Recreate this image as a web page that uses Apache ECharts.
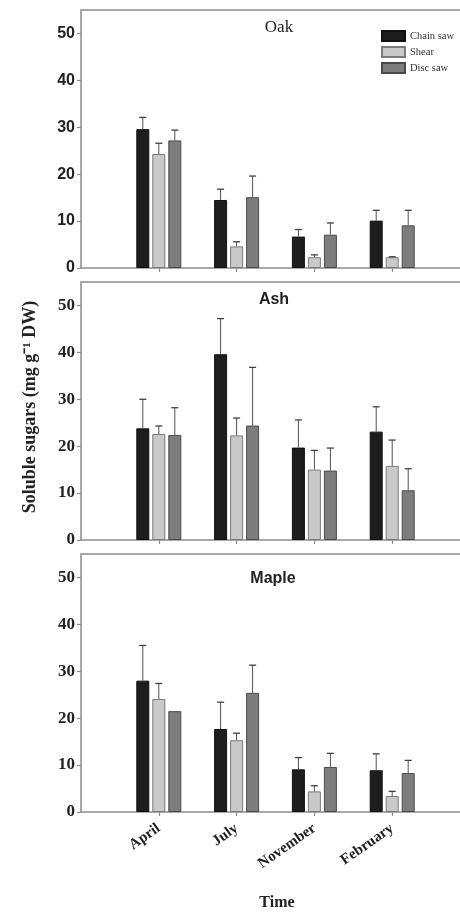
<!DOCTYPE html>
<html><head><meta charset="utf-8">
<script src="https://cdn.jsdelivr.net/npm/echarts@6/dist/echarts.min.js"></script>
<style>html,body{margin:0;padding:0;background:#fff}#c{width:460px;height:912px}</style>
</head><body><div id="c"></div>
<script>
// ---- data ----
const months = ['April', 'July', 'November', 'February'];
const seriesNames = ['Chain saw', 'Shear', 'Disc saw'];
const panelTitles = ['Oak', 'Ash', 'Maple'];
const yTicks = [0, 10, 20, 30, 40, 50];

const oakChain = [29.6, 14.5, 6.7, 10.1];
const oakShear = [24.3, 4.6, 2.3, 2.3];
const oakDisc  = [27.2, 15.1, 7.1, 9.1];
const oakChainSE = [2.5, 2.3, 1.5, 2.2];
const oakShearSE = [2.3, 1.0, 0.5, 0.1];
const oakDiscSE  = [2.2, 4.5, 2.5, 3.2];

const ashChain = [23.8, 39.6, 19.7, 23.1];
const ashShear = [22.6, 22.3, 15.0, 15.8];
const ashDisc  = [22.4, 24.4, 14.8, 10.6];
const ashChainSE = [6.2, 7.6, 5.9, 5.3];
const ashShearSE = [1.7, 3.7, 4.1, 5.5];
const ashDiscSE  = [5.8, 12.4, 4.8, 4.6];

const mapleChain = [28.0, 17.7, 9.1, 8.9];
const mapleShear = [24.1, 15.3, 4.4, 3.4];
const mapleDisc  = [21.5, 25.4, 9.6, 8.3];
const mapleChainSE = [7.5, 5.7, 2.5, 3.5];
const mapleShearSE = [3.3, 1.5, 1.2, 1.0];
const mapleDiscSE  = [0, 5.9, 2.9, 2.7];

// ---- styling ----
const fills = ['#1d1d1d', '#c9c9c9', '#7d7d7d'];
const borders = ['#111111', '#7a7a7a', '#4a4a4a'];
const axisGray = '#8c8c8c';
const BAR_W = 13, BAR_GAP = 3;

const panels = [
  {means: [oakChain, oakShear, oakDisc], se: [oakChainSE, oakShearSE, oakDiscSE]},
  {means: [ashChain, ashShear, ashDisc], se: [ashChainSE, ashShearSE, ashDiscSE]},
  {means: [mapleChain, mapleShear, mapleDisc], se: [mapleChainSE, mapleShearSE, mapleDiscSE]}
];

const cats = [''].concat(months, ['']);
const pad = arr => [null].concat(arr, [null]);

const gridTops = [10, 282, 554];
const gridH = 258;

const grids = [], xAxes = [], yAxes = [], series = [];
panels.forEach((p, pi) => {
  grids.push({left: 81, width: 389, top: gridTops[pi], height: gridH, show: true,
    outerBoundsMode: 'none', containLabel: false,
    borderColor: axisGray, borderWidth: 1.5, backgroundColor: 'transparent'});
  xAxes.push({
    type: 'category', gridIndex: pi, data: cats, boundaryGap: false,
    axisLine: {show: false},
    axisTick: {show: true, length: 4, lineStyle: {color: axisGray, width: 1.2},
      interval: (i) => i > 0 && i < cats.length - 1},
    axisLabel: pi === 2 ? {
      show: true, rotate: 35, margin: 15, color: '#222',
      fontFamily: 'Liberation Serif', fontWeight: 'bold', fontSize: 15,
      interval: (i) => i > 0 && i < cats.length - 1
    } : {show: false},
    splitLine: {show: false}
  });
  yAxes.push({
    type: 'value', gridIndex: pi, min: 0, max: 55, interval: 10,
    axisLine: {show: false},
    axisTick: {show: true, length: 4, customValues: yTicks, lineStyle: {color: axisGray, width: 1.2}},
    axisLabel: {customValues: yTicks, margin: 6, color: '#222', fontWeight: 'bold',
      fontFamily: pi === 0 ? 'Liberation Sans' : 'Liberation Serif',
      fontSize: pi === 0 ? 16 : 17},
    splitLine: {show: false}
  });
  p.means.forEach((arr, si) => {
    series.push({
      type: 'bar', name: seriesNames[si], xAxisIndex: pi, yAxisIndex: pi,
      data: pad(arr), barWidth: BAR_W, barGap: (BAR_GAP / BAR_W * 100) + '%',
      itemStyle: {color: fills[si], borderColor: borders[si], borderWidth: 1},
      emphasis: {disabled: true}, z: 2
    });
  });
  p.means.forEach((arr, si) => {
    const offset = (si - 1) * (BAR_W + BAR_GAP);
    const errData = arr.map((m, k) => [k + 1, m, m + p.se[si][k]]);
    series.push({
      type: 'custom', xAxisIndex: pi, yAxisIndex: pi, z: 3, silent: true,
      data: errData,
      renderItem: (params, api) => {
        const x = api.value(0), lo = api.value(1), hi = api.value(2);
        if (hi - lo <= 0) return null;
        const p0 = api.coord([x, lo]), p1 = api.coord([x, hi]);
        const cx = p0[0] + offset;
        return {type: 'group', children: [
          {type: 'line', shape: {x1: cx, y1: p0[1], x2: cx, y2: p1[1]}, style: {stroke: '#505050', lineWidth: 1}},
          {type: 'line', shape: {x1: cx - 3.5, y1: p1[1], x2: cx + 3.5, y2: p1[1]}, style: {stroke: '#404040', lineWidth: 1.3}}
        ]};
      }
    });
  });
});

const chart = echarts.init(document.getElementById('c'), null, {renderer: 'canvas'});
chart.setOption({
  animation: false,
  backgroundColor: '#ffffff',
  grid: grids, xAxis: xAxes, yAxis: yAxes, series: series,
  legend: {
    data: seriesNames, orient: 'vertical', left: 381, top: 30, padding: 0,
    itemWidth: 23, itemHeight: 10, itemGap: 4, icon: 'rect',
    selectedMode: false,
    textStyle: {fontFamily: 'Liberation Serif', fontSize: 10.5, color: '#333'}
  },
  graphic: [
    {type: 'text', x: 279, y: 28, style: {text: panelTitles[0], textAlign: 'center', textVerticalAlign: 'middle',
      font: '17px "Liberation Serif"', fill: '#222'}},
    {type: 'text', x: 274, y: 300, style: {text: panelTitles[1], textAlign: 'center', textVerticalAlign: 'middle',
      font: 'bold 16px "Liberation Sans"', fill: '#222'}},
    {type: 'text', x: 273, y: 579, style: {text: panelTitles[2], textAlign: 'center', textVerticalAlign: 'middle',
      font: 'bold 16px "Liberation Sans"', fill: '#222'}},
    {type: 'text', x: 30, y: 407, rotation: Math.PI / 2, style: {text: 'Soluble sugars (mg g⁻¹ DW)',
      textAlign: 'center', textVerticalAlign: 'middle', font: 'bold 18px "Liberation Serif"', fill: '#222'}},
    {type: 'text', x: 277, y: 903, style: {text: 'Time', textAlign: 'center', textVerticalAlign: 'middle',
      font: 'bold 16px "Liberation Serif"', fill: '#222'}}
  ]
});
</script></body></html>
